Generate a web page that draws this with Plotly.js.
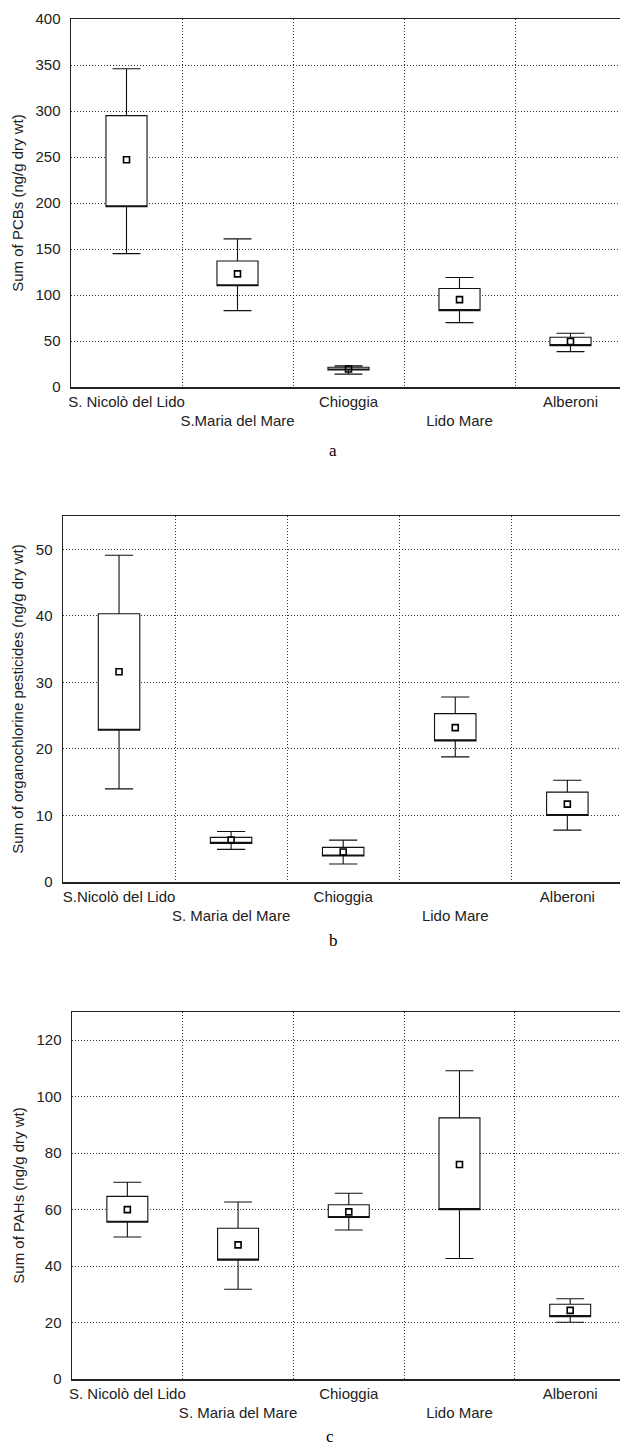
<!DOCTYPE html>
<html>
<head>
<meta charset="utf-8">
<script src="https://cdn.plot.ly/plotly-3.0.1.min.js"></script>
<style>html,body{margin:0;padding:0;background:#fff;}#chart{width:620px;height:1447px;}</style>
</head>
<body>
<div id="chart"></div>
<script>
// ---- Data ----
const labelsA = ["S. Nicolò del Lido", "S.Maria del Mare", "Chioggia", "Lido Mare", "Alberoni"];
const labelsB = ["S.Nicolò del Lido", "S. Maria del Mare", "Chioggia", "Lido Mare", "Alberoni"];
const labelsC = ["S. Nicolò del Lido", "S. Maria del Mare", "Chioggia", "Lido Mare", "Alberoni"];

// Panel a: Sum of PCBs
const pcbLow  = [145, 83, 14, 70, 38.5];
const pcbQ1   = [196, 110, 18.5, 83, 45];
const pcbMean = [247, 123, 19.5, 95, 49.5];
const pcbQ3   = [295, 137, 21.5, 107, 54];
const pcbHigh = [346, 161, 23, 119, 58.5];

// Panel b: Sum of organochlorine pesticides
const ocpLow  = [14.0, 4.9, 2.7, 18.8, 7.8];
const ocpQ1   = [22.8, 5.8, 3.9, 21.2, 10.0];
const ocpMean = [31.6, 6.3, 4.5, 23.2, 11.7];
const ocpQ3   = [40.3, 6.7, 5.2, 25.3, 13.5];
const ocpHigh = [49.1, 7.6, 6.3, 27.8, 15.3];

// Panel c: Sum of PAHs
const pahLow  = [50.3, 31.8, 52.8, 42.7, 20.1];
const pahQ1   = [55.5, 42.1, 57.2, 60.0, 22.1];
const pahMean = [60.0, 47.5, 59.2, 76.0, 24.3];
const pahQ3   = [64.7, 53.4, 61.7, 92.5, 26.5];
const pahHigh = [69.7, 62.7, 65.8, 109.2, 28.4];

const yTitleA = "Sum of PCBs (ng/g dry wt)";
const yTitleB = "Sum of organochlorine pesticides (ng/g dry wt)";
const yTitleC = "Sum of PAHs (ng/g dry wt)";
const panelLetters = ["a", "b", "c"];

// ---- Build ----
const FONT = "Liberation Sans, Arial, sans-serif";
const H = 1447, W = 620;
const DOT = "1px,2px";

function boxTrace(labels, lo, q1, q3, hi, xa, ya) {
  const pos = labels.map((_, i) => i);
  return {
    type: "box", x: pos, q1: q1, median: q1, q3: q3,
    lowerfence: lo, upperfence: hi,
    xaxis: xa, yaxis: ya,
    width: 0.37, whiskerwidth: 0.68,
    fillcolor: "#ffffff",
    line: {color: "#111", width: 1.1},
    boxpoints: false, hoverinfo: "skip", showlegend: false
  };
}
function meanTrace(labels, mean, xa, ya) {
  return {
    type: "scatter", mode: "markers", x: labels.map((_, i) => i), y: mean,
    xaxis: xa, yaxis: ya,
    marker: {symbol: "square-open", size: 6, color: "#000", line: {width: 1.6, color: "#000"}},
    hoverinfo: "skip", showlegend: false
  };
}
function stagger(labels) {
  return labels.map((t, i) => (i % 2 === 1 ? "<br>" + t : t));
}
function xAxis(labels, domain, rightEnd, anchor) {
  return {
    domain: domain, range: [-0.5, rightEnd], anchor: anchor,
    tickmode: "array", tickvals: labels.map((_, i) => i), ticktext: stagger(labels),
    tickangle: 0, ticklabeloverflow: "allow",
    showgrid: false, zeroline: false, ticks: "",
    showline: true, linecolor: "#222", linewidth: 1.5, mirror: true,
    tickfont: {family: FONT, size: 15, color: "#222"},
    minor: {tickmode: "array", tickvals: labels.slice(1).map((_, i) => i + 0.5),
            showgrid: true, griddash: DOT, gridcolor: "#333", gridwidth: 1, ticks: ""},
    fixedrange: true
  };
}
function yAxis(title, domain, range, dtick, anchor) {
  return {
    domain: domain, range: range, dtick: dtick, anchor: anchor,
    showgrid: true, griddash: DOT, gridcolor: "#333", gridwidth: 1,
    zeroline: false, ticks: "", ticklabelstandoff: 6,
    showline: true, linecolor: "#222", linewidth: 1.5,
    tickfont: {family: FONT, size: 15, color: "#222"},
    title: {text: title, font: {family: FONT, size: 15, color: "#222"}, standoff: 8},
    fixedrange: true
  };
}

const data = [
  boxTrace(labelsA, pcbLow, pcbQ1, pcbQ3, pcbHigh, "x", "y"),
  meanTrace(labelsA, pcbMean, "x", "y"),
  boxTrace(labelsB, ocpLow, ocpQ1, ocpQ3, ocpHigh, "x2", "y2"),
  meanTrace(labelsB, ocpMean, "x2", "y2"),
  boxTrace(labelsC, pahLow, pahQ1, pahQ3, pahHigh, "x3", "y3"),
  meanTrace(labelsC, pahMean, "x3", "y3")
];

const layout = {
  width: W, height: H,
  margin: {l: 0, r: 0, t: 0, b: 0},
  paper_bgcolor: "#fff", plot_bgcolor: "#fff",
  showlegend: false,
  xaxis:  xAxis(labelsA, [71 / W, 1], 4.446, "y"),
  yaxis:  yAxis(yTitleA, [1 - 387 / H, 1 - 19 / H], [0, 400], 50, "x"),
  xaxis2: xAxis(labelsB, [63 / W, 1], 4.47, "y2"),
  yaxis2: yAxis(yTitleB, [1 - 882 / H, 1 - 516 / H], [0, 55], 10, "x2"),
  xaxis3: xAxis(labelsC, [72 / W, 1], 4.45, "y3"),
  yaxis3: yAxis(yTitleC, [1 - 1379 / H, 1 - 1012 / H], [0, 130], 20, "x3"),
  annotations: [
    {text: panelLetters[0], x: 333 / W, y: 1 - 450 / H},
    {text: panelLetters[1], x: 333 / W, y: 1 - 940 / H},
    {text: panelLetters[2], x: 330 / W, y: 1 - 1436 / H}
  ].map(a => Object.assign(a, {xref: "paper", yref: "paper", showarrow: false,
      xanchor: "center", yanchor: "middle",
      font: {family: "Liberation Serif, Times New Roman, serif", size: 17, color: "#000"}}))
};

Plotly.newPlot("chart", data, layout, {staticPlot: true, displayModeBar: false});
</script>
</body>
</html>
